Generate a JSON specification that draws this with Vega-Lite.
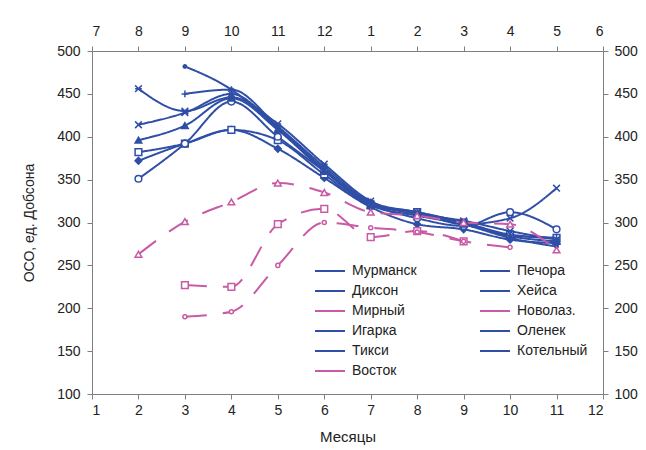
{
  "$schema": "https://vega.github.io/schema/vega-lite/v6.json",
  "width": 511,
  "height": 343,
  "autosize": {"type": "none"},
  "padding": {"left": 92, "top": 51, "right": 43, "bottom": 56},
  "background": "white",
  "config": {
    "view": {"stroke": null},
    "font": "Liberation Sans",
    "axis": {"grid": false, "domainColor": "#808080", "tickColor": "#808080", "labelColor": "#222", "labelFont": "Liberation Sans", "labelFontSize": 14, "titleFont": "Liberation Sans", "titleFontWeight": "normal", "titleColor": "#222", "tickSize": 5},
    "legend": {"labelFont": "Liberation Sans", "labelFontSize": 14, "labelColor": "#222"}
  },
  "data": {"values": [
    {"station": "Мурманск", "m": 2, "v": 372}, {"station": "Мурманск", "m": 3, "v": 392}, {"station": "Мурманск", "m": 4, "v": 408}, {"station": "Мурманск", "m": 5, "v": 386}, {"station": "Мурманск", "m": 6, "v": 352}, {"station": "Мурманск", "m": 7, "v": 318}, {"station": "Мурманск", "m": 8, "v": 298}, {"station": "Мурманск", "m": 9, "v": 292}, {"station": "Мурманск", "m": 10, "v": 280}, {"station": "Мурманск", "m": 11, "v": 276},
    {"station": "Печора", "m": 2, "v": 382}, {"station": "Печора", "m": 3, "v": 392}, {"station": "Печора", "m": 4, "v": 408}, {"station": "Печора", "m": 5, "v": 396}, {"station": "Печора", "m": 6, "v": 356}, {"station": "Печора", "m": 7, "v": 320}, {"station": "Печора", "m": 8, "v": 312}, {"station": "Печора", "m": 9, "v": 300}, {"station": "Печора", "m": 10, "v": 286}, {"station": "Печора", "m": 11, "v": 282},
    {"station": "Хейса", "m": 2, "v": 351}, {"station": "Хейса", "m": 3, "v": 392}, {"station": "Хейса", "m": 4, "v": 441}, {"station": "Хейса", "m": 5, "v": 400}, {"station": "Хейса", "m": 6, "v": 360}, {"station": "Хейса", "m": 7, "v": 322}, {"station": "Хейса", "m": 8, "v": 305}, {"station": "Хейса", "m": 9, "v": 296}, {"station": "Хейса", "m": 10, "v": 312}, {"station": "Хейса", "m": 11, "v": 292},
    {"station": "Диксон", "m": 2, "v": 456}, {"station": "Диксон", "m": 3, "v": 430}, {"station": "Диксон", "m": 4, "v": 446}, {"station": "Диксон", "m": 5, "v": 415}, {"station": "Диксон", "m": 6, "v": 368}, {"station": "Диксон", "m": 7, "v": 325}, {"station": "Диксон", "m": 8, "v": 310}, {"station": "Диксон", "m": 9, "v": 302}, {"station": "Диксон", "m": 10, "v": 290}, {"station": "Диксон", "m": 11, "v": 280},
    {"station": "Оленек", "m": 2, "v": 414}, {"station": "Оленек", "m": 3, "v": 428}, {"station": "Оленек", "m": 4, "v": 450}, {"station": "Оленек", "m": 5, "v": 410}, {"station": "Оленек", "m": 6, "v": 362}, {"station": "Оленек", "m": 7, "v": 322}, {"station": "Оленек", "m": 8, "v": 312}, {"station": "Оленек", "m": 9, "v": 298}, {"station": "Оленек", "m": 10, "v": 305}, {"station": "Оленек", "m": 11, "v": 340},
    {"station": "Игарка", "m": 2, "v": 396}, {"station": "Игарка", "m": 3, "v": 413}, {"station": "Игарка", "m": 4, "v": 445}, {"station": "Игарка", "m": 5, "v": 408}, {"station": "Игарка", "m": 6, "v": 360}, {"station": "Игарка", "m": 7, "v": 320}, {"station": "Игарка", "m": 8, "v": 308}, {"station": "Игарка", "m": 9, "v": 298}, {"station": "Игарка", "m": 10, "v": 284}, {"station": "Игарка", "m": 11, "v": 278},
    {"station": "Тикси", "m": 3, "v": 450}, {"station": "Тикси", "m": 4, "v": 455}, {"station": "Тикси", "m": 5, "v": 412}, {"station": "Тикси", "m": 6, "v": 365}, {"station": "Тикси", "m": 7, "v": 324}, {"station": "Тикси", "m": 8, "v": 312}, {"station": "Тикси", "m": 9, "v": 300}, {"station": "Тикси", "m": 10, "v": 285}, {"station": "Тикси", "m": 11, "v": 282},
    {"station": "Котельный", "m": 3, "v": 482}, {"station": "Котельный", "m": 4, "v": 455}, {"station": "Котельный", "m": 5, "v": 410}, {"station": "Котельный", "m": 6, "v": 362}, {"station": "Котельный", "m": 7, "v": 322}, {"station": "Котельный", "m": 8, "v": 310}, {"station": "Котельный", "m": 9, "v": 298}, {"station": "Котельный", "m": 10, "v": 282}, {"station": "Котельный", "m": 11, "v": 272},
    {"station": "Мирный", "m": 2, "v": 263}, {"station": "Мирный", "m": 3, "v": 301}, {"station": "Мирный", "m": 4, "v": 324}, {"station": "Мирный", "m": 5, "v": 346}, {"station": "Мирный", "m": 6, "v": 335}, {"station": "Мирный", "m": 7, "v": 312}, {"station": "Мирный", "m": 8, "v": 308}, {"station": "Мирный", "m": 9, "v": 300}, {"station": "Мирный", "m": 10, "v": 298}, {"station": "Мирный", "m": 11, "v": 268},
    {"station": "Восток", "m": 3, "v": 227}, {"station": "Восток", "m": 4, "v": 225}, {"station": "Восток", "m": 5, "v": 298}, {"station": "Восток", "m": 6, "v": 316}, {"station": "Восток", "m": 7, "v": 283}, {"station": "Восток", "m": 8, "v": 290}, {"station": "Восток", "m": 9, "v": 278},
    {"station": "Новолаз.", "m": 3, "v": 190}, {"station": "Новолаз.", "m": 4, "v": 196}, {"station": "Новолаз.", "m": 5, "v": 250}, {"station": "Новолаз.", "m": 6, "v": 300}, {"station": "Новолаз.", "m": 7, "v": 294}, {"station": "Новолаз.", "m": 8, "v": 289}, {"station": "Новолаз.", "m": 9, "v": 278}, {"station": "Новолаз.", "m": 10, "v": 271}
  ]},
  "layer": [
    {
      "mark": {"type": "line", "interpolate": "monotone", "strokeWidth": 2},
      "encoding": {
        "x": {"field": "m", "type": "quantitative", "scale": {"domain": [1, 12], "nice": false, "zero": false},
              "axis": {"values": [1,2,3,4,5,6,7,8,9,10,11,12], "title": "Месяцы", "titleFontSize": 15, "titlePadding": 12, "labelPadding": 4}},
        "y": {"field": "v", "type": "quantitative", "scale": {"domain": [100, 500], "nice": false, "zero": false},
              "axis": {"values": [100,150,200,250,300,350,400,450,500], "title": "ОСО, ед. Добсона", "titleFontSize": 14, "titlePadding": 20, "labelPadding": 7}},
        "color": {"field": "station", "type": "nominal",
          "scale": {"domain": ["Мурманск","Диксон","Мирный","Игарка","Тикси","Восток","Печора","Хейса","Новолаз.","Оленек","Котельный"],
                    "range": ["#2F4EA6","#2F4EA6","#C85AA6","#2F4EA6","#2F4EA6","#C85AA6","#2F4EA6","#2F4EA6","#C85AA6","#2F4EA6","#2F4EA6"]},
          "legend": {"title": null, "orient": "none", "legendX": 222, "legendY": 212, "columns": 2, "columnPadding": 62, "rowPadding": 4, "clipHeight": 16, "symbolType": "stroke", "symbolSize": 900, "symbolStrokeWidth": 2, "symbolDash": [1, 0], "labelOffset": 6, "labelColor": "#222"}},
        "strokeDash": {"condition": {"test": "datum.station === 'Мирный' || datum.station === 'Восток' || datum.station === 'Новолаз.'", "value": [22, 16]}, "value": [1, 0]}
      }
    },
    {
      "mark": {"type": "point", "filled": false, "size": 45, "strokeWidth": 1.5, "opacity": 1},
      "encoding": {
        "x": {"field": "m", "type": "quantitative", "scale": {"domain": [1, 12], "nice": false, "zero": false},
              "axis": {"orient": "top", "values": [1,2,3,4,5,6,7,8,9,10,11,12], "title": null, "labelExpr": "(datum.value + 5) % 12 + 1", "labelPadding": 8}},
        "y": {"field": "v", "type": "quantitative", "scale": {"domain": [100, 500], "nice": false, "zero": false},
              "axis": {"orient": "right", "values": [100,150,200,250,300,350,400,450,500], "title": null, "labelPadding": 6}},
        "color": {"field": "station", "type": "nominal", "legend": null},
        "shape": {"field": "station", "type": "nominal",
          "sort": ["Мурманск","Диксон","Мирный","Игарка","Тикси","Восток","Печора","Хейса","Новолаз.","Оленек","Котельный"],
          "scale": {"range": ["diamond","M-1,-1L1,1M-1,1L1,-1M-1,0L1,0","triangle-up","triangle-up","M-1,0L1,0M0,-1L0,1","square","square","circle","M-0.6,0A0.6,0.6 0 1,1 0.6,0A0.6,0.6 0 1,1 -0.6,0Z","M-1,-1L1,1M-1,1L1,-1","M-0.5,0A0.5,0.5 0 1,1 0.5,0A0.5,0.5 0 1,1 -0.5,0Z"]},
          "legend": null},
        "fill": {"condition": {"test": "indexof(['Мурманск','Диксон','Игарка','Котельный'], datum.station) >= 0", "value": "#2F4EA6"}, "value": "white"}
      }
    }
  ],
  "resolve": {"axis": {"x": "independent", "y": "independent"}, "legend": {"color": "independent"}}
}
